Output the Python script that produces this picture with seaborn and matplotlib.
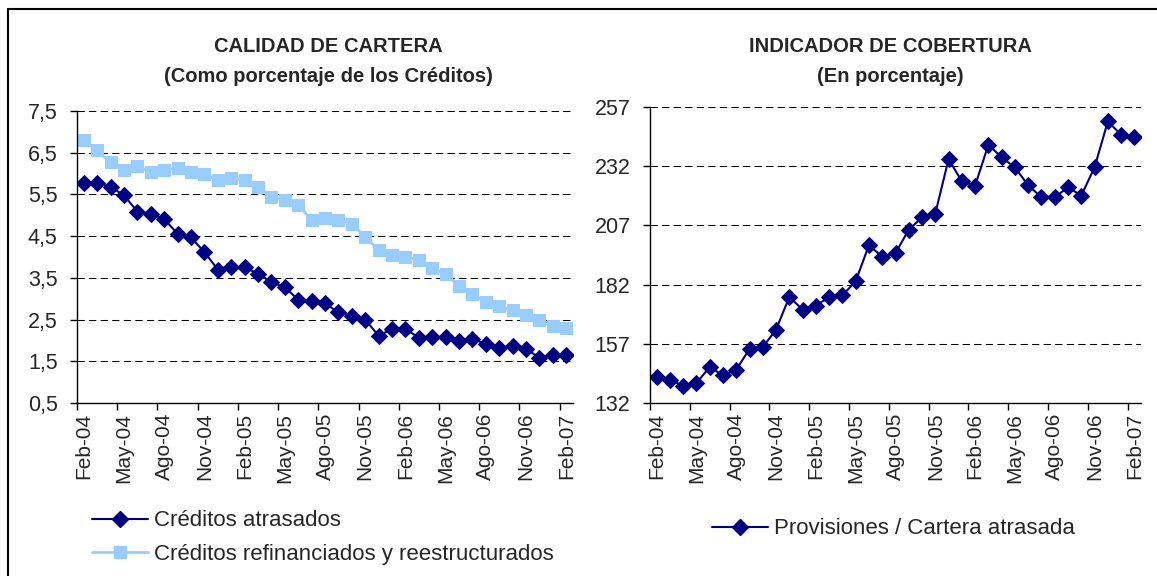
import matplotlib
matplotlib.use("Agg")
import matplotlib.pyplot as plt
from matplotlib.lines import Line2D
import numpy as np
import pandas as pd
import seaborn as sns

# monthly data, Feb-04 .. Feb-07 (37 months)
tick_labels = ['Feb-04', 'May-04', 'Ago-04', 'Nov-04', 'Feb-05', 'May-05', 'Ago-05',
               'Nov-05', 'Feb-06', 'May-06', 'Ago-06', 'Nov-06', 'Feb-07']

atrasados = [5.77, 5.77, 5.68, 5.48, 5.09, 5.04, 4.91, 4.56, 4.47, 4.12, 3.70, 3.75, 3.75,
             3.60, 3.40, 3.27, 2.98, 2.94, 2.89, 2.67, 2.59, 2.50, 2.11, 2.28, 2.27, 2.07,
             2.08, 2.08, 1.98, 2.03, 1.92, 1.83, 1.87, 1.79, 1.59, 1.64, 1.64]

refinanciados = [6.80, 6.56, 6.27, 6.08, 6.17, 6.04, 6.09, 6.13, 6.04, 5.99, 5.84, 5.89, 5.84,
                 5.69, 5.45, 5.36, 5.25, 4.89, 4.93, 4.89, 4.79, 4.49, 4.16, 4.05, 4.01, 3.92,
                 3.73, 3.59, 3.30, 3.11, 2.92, 2.82, 2.72, 2.62, 2.48, 2.34, 2.30]

provisiones = [143.0, 141.9, 139.3, 140.4, 147.2, 143.7, 146.1, 154.8, 155.6, 163.0, 176.8,
               171.4, 173.1, 176.8, 177.5, 183.4, 198.7, 193.7, 195.3, 205.2, 210.4, 212.0,
               235.0, 225.6, 223.8, 241.1, 235.7, 231.5, 223.9, 218.9, 218.9, 223.1, 219.6,
               231.5, 250.9, 245.3, 244.3]

left_yticks = [0.5, 1.5, 2.5, 3.5, 4.5, 5.5, 6.5, 7.5]
left_ylabels = ['0,5', '1,5', '2,5', '3,5', '4,5', '5,5', '6,5', '7,5']
right_yticks = [132, 157, 182, 207, 232, 257]

navy = '#000080'
light = '#99CCFF'

sns.set_theme(style="white")
plt.rcParams['font.family'] = ['Liberation Sans', 'DejaVu Sans']

W, H = 1157, 576
fig = plt.figure(figsize=(W / 100, H / 100), dpi=100)

def px_axes(x0, x1, y_top, y_bot):
    return fig.add_axes([x0 / W, 1 - y_bot / H, (x1 - x0) / W, (y_bot - y_top) / H])

ax1 = px_axes(77, 573, 111, 403)
ax2 = px_axes(650, 1141, 107, 403)

pos = np.arange(len(atrasados))
df = pd.DataFrame({'mes': pos, 'atrasados': atrasados,
                   'refinanciados': refinanciados, 'provisiones': provisiones})

sns.lineplot(data=df, x='mes', y='refinanciados', ax=ax1, color=light, marker='s',
             markersize=9, markeredgecolor=light, linewidth=2, zorder=3)
sns.lineplot(data=df, x='mes', y='atrasados', ax=ax1, color=navy, marker='D',
             markersize=8.5, markeredgecolor=navy, linewidth=1.5, zorder=4)
sns.lineplot(data=df, x='mes', y='provisiones', ax=ax2, color=navy, marker='D',
             markersize=8.5, markeredgecolor=navy, linewidth=1.5, zorder=4)

def style_axis(ax, yticks, ylabels):
    ax.set_xlim(-0.5, len(pos) - 0.5)
    ax.set_ylim(yticks[0], yticks[-1])
    ax.set_yticks(yticks)
    ax.set_yticklabels(ylabels, fontsize=15.5)
    ax.set_xticks(pos[::3])
    ax.set_xticklabels(tick_labels, rotation=90, fontsize=15)
    ax.set_xticks(np.arange(-0.5, len(pos), 3), minor=True)
    ax.tick_params(axis='x', which='major', length=0, pad=7)
    ax.tick_params(axis='x', which='minor', length=5, width=1, color='black',
                   direction='out', bottom=True)
    ax.tick_params(axis='y', length=5, width=1, color='black', direction='out',
                   left=True, pad=9)
    ax.set_xlabel('')
    ax.set_ylabel('')
    ax.grid(axis='y', color='black', linestyle=(0, (7.0, 4.1)), linewidth=0.75)
    ax.grid(axis='x', visible=False)
    for s in ['top', 'right']:
        ax.spines[s].set_visible(False)
    for s in ['left', 'bottom']:
        ax.spines[s].set_color('black')
        ax.spines[s].set_linewidth(1.0)
        ax.spines[s].set_zorder(5)

style_axis(ax1, left_yticks, left_ylabels)
style_axis(ax2, right_yticks, [str(v) for v in right_yticks])

# titles
fig.text(328 / W, 1 - 46 / H, 'CALIDAD DE CARTERA', ha='center', va='center',
         fontsize=14.5, fontweight='bold')
fig.text(328 / W, 1 - 77 / H, '(Como porcentaje de los Créditos)', ha='center',
         va='center', fontsize=14.5, fontweight='bold')
fig.text(890 / W, 1 - 46 / H, 'INDICADOR DE COBERTURA', ha='center', va='center',
         fontsize=14.5, fontweight='bold')
fig.text(890 / W, 1 - 77 / H, '(En porcentaje)', ha='center', va='center',
         fontsize=14.5, fontweight='bold')

# legends
h_atr = Line2D([], [], color=navy, marker='D', markersize=8.5, linewidth=1.5)
h_ref = Line2D([], [], color=light, marker='s', markersize=9, linewidth=2)
h_pro = Line2D([], [], color=navy, marker='D', markersize=8.5, linewidth=1.5)
for a in (ax1, ax2):
    if a.get_legend():
        a.get_legend().remove()
fig.legend([h_atr, h_ref], ['Créditos atrasados', 'Créditos refinanciados y reestructurados'],
           loc='center left', bbox_to_anchor=(92 / W, 1 - 537.5 / H), frameon=False,
           fontsize=16, handlelength=2.5, handletextpad=0.3, labelspacing=0.55,
           borderpad=0, borderaxespad=0)
fig.legend([h_pro], ['Provisiones / Cartera atrasada'],
           loc='center left', bbox_to_anchor=(712 / W, 1 - 529 / H), frameon=False,
           fontsize=16, handlelength=2.5, handletextpad=0.3,
           borderpad=0, borderaxespad=0)

# outer frame (top and left edges visible)
fig.add_artist(Line2D([8 / W, 1], [1 - 9 / H, 1 - 9 / H], color='black', linewidth=1.5))
fig.add_artist(Line2D([8 / W, 8 / W], [0, 1 - 9 / H], color='black', linewidth=1.5))

fig.savefig('out.png', dpi=100)
